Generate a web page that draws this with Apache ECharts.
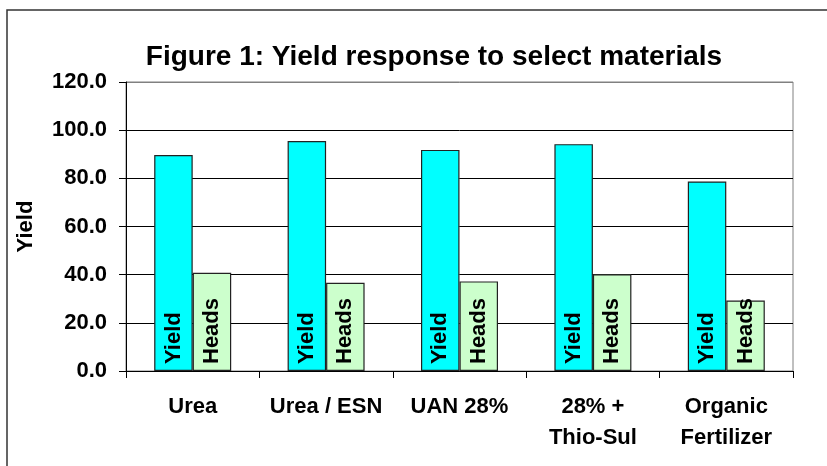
<!DOCTYPE html>
<html>
<head>
<meta charset="utf-8">
<script src="https://cdn.jsdelivr.net/npm/echarts@6/dist/echarts.min.js"></script>
<style>html,body{margin:0;padding:0;background:#fff}#c{width:827px;height:466px}</style>
</head>
<body>
<div id="c"></div>
<script>
var categories = ['Urea', 'Urea / ESN', 'UAN 28%', '28% +\nThio-Sul', 'Organic\nFertilizer'];
var yieldValues = [89.7, 95.5, 91.8, 94.2, 78.7];
var headsValues = [40.8, 36.6, 37.2, 40.2, 29.3];
var yTicks = [0, 20, 40, 60, 80, 100, 120];
var titleText = 'Figure 1: Yield response to select materials';

var FONT = '"Liberation Sans", Arial, sans-serif';
var chart = echarts.init(document.getElementById('c'), null, {renderer: 'canvas'});

function barLabel(txt) {
  return {
    show: true,
    position: 'insideBottom',
    distance: 7,
    rotate: 90,
    align: 'left',
    verticalAlign: 'middle',
    formatter: txt,
    color: '#000',
    fontFamily: FONT,
    fontWeight: 'bold',
    fontSize: 22
  };
}

chart.setOption({
  animation: false,
  backgroundColor: '#fff',
  graphic: [
    {type: 'rect', shape: {x: 7, y: 10, width: 900, height: 600}, style: {fill: 'none', stroke: '#333', lineWidth: 1.5}, z: 100},
    {type: 'text', x: 434, y: 57, style: {text: titleText, align: 'center', verticalAlign: 'middle', fill: '#000', font: 'bold 28px ' + FONT}}
  ],
  grid: {left: 126, top: 82, width: 667, height: 289, show: true, borderColor: '#808080', borderWidth: 1, backgroundColor: 'transparent'},
  xAxis: {
    type: 'category',
    data: categories,
    axisLine: {show: true, lineStyle: {color: '#000', width: 1}},
    axisTick: {show: true, length: 7, lineStyle: {color: '#000'}},
    axisLabel: {color: '#000', fontFamily: FONT, fontWeight: 'bold', fontSize: 22, lineHeight: 31, margin: 20, interval: 0}
  },
  yAxis: {
    type: 'value',
    min: yTicks[0],
    max: yTicks[yTicks.length - 1],
    interval: 20,
    name: 'Yield',
    nameLocation: 'middle',
    nameGap: 89,
    nameRotate: 90,
    nameTextStyle: {color: '#000', fontFamily: FONT, fontWeight: 'bold', fontSize: 22},
    axisLine: {show: true, lineStyle: {color: '#000', width: 1}},
    axisTick: {show: true, length: 7, lineStyle: {color: '#000'}},
    axisLabel: {color: '#000', fontFamily: FONT, fontWeight: 'bold', fontSize: 22, margin: 19,
      formatter: function (v) { return v.toFixed(1); }},
    splitLine: {show: true, lineStyle: {color: ['#000', '#000', '#000', '#000', '#000', '#000', '#808080'], width: 1}}
  },
  series: [
    {name: 'Yield', type: 'bar', data: yieldValues, barWidth: 38.5, barGap: '0%',
      itemStyle: {color: '#00FFFF', borderColor: '#222', borderWidth: 1.2}, label: barLabel('Yield')},
    {name: 'Heads', type: 'bar', data: headsValues, barWidth: 38.5, barGap: '0%',
      itemStyle: {color: '#CCFFCC', borderColor: '#222', borderWidth: 1.2}, label: barLabel('Heads')}
  ]
});
</script>
</body>
</html>
